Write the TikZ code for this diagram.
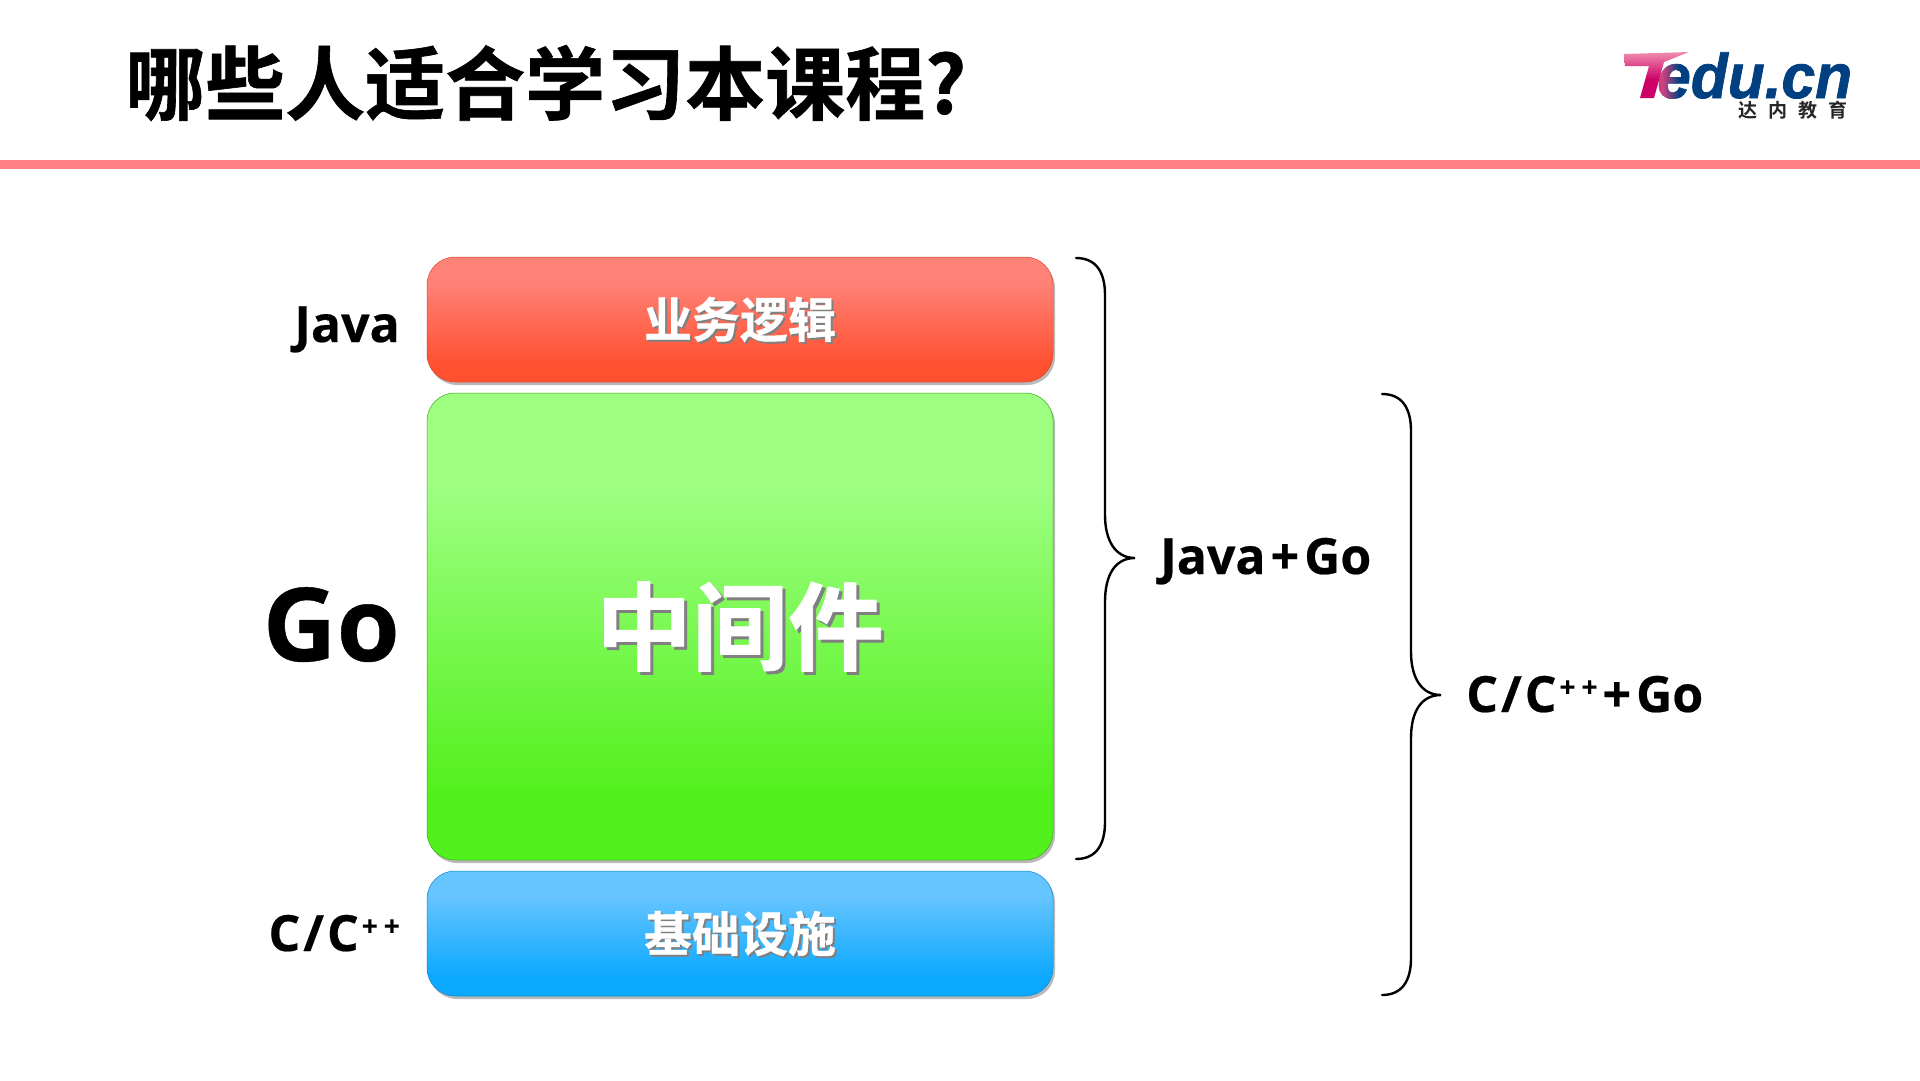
\documentclass[tikz,border=0pt]{standalone}
\usepackage{fontspec}
\setmainfont{Noto Sans CJK SC}[BoldFont={Noto Sans CJK SC Bold}]
\newfontfamily\logofont{Liberation Sans Bold Italic}[FakeBold=1.2]
\newfontfamily\cjkb{Noto Sans CJK SC Bold}[FakeBold=0.8]
\newfontfamily\cjkc{Noto Sans CJK SC Bold}
\newfontfamily\latb{Open Sans Bold}[FakeBold=0.4]
\usetikzlibrary{shadows,calc}
\definecolor{myrt}{HTML}{FF8277}\definecolor{myrb}{HTML}{FF5030}
\definecolor{mygt}{HTML}{9EFF82}\definecolor{mygb}{HTML}{52F01C}
\definecolor{mybt}{HTML}{66C4FF}\definecolor{mybb}{HTML}{0AA8FF}
\definecolor{tt}{HTML}{F08CB0}\definecolor{tb}{HTML}{CC0066}
\definecolor{logoblue}{HTML}{004080}
\pgfdeclareverticalshading{redgrad}{100bp}{color(0bp)=(myrb);color(32bp)=(myrb);color(65bp)=(myrt);color(100bp)=(myrt)}
\pgfdeclareverticalshading{greengrad}{100bp}{color(0bp)=(mygb);color(32bp)=(mygb);color(65bp)=(mygt);color(100bp)=(mygt)}
\pgfdeclareverticalshading{bluegrad}{100bp}{color(0bp)=(mybb);color(32bp)=(mybb);color(65bp)=(mybt);color(100bp)=(mybt)}
\pgfdeclareverticalshading{tgrad}{100bp}{color(0bp)=(tb);color(45bp)=(tb);color(75bp)=(tt);color(100bp)=(tt)}
\pgfdeclarehorizontalshading{egrad}{100bp}{color(0bp)=(tb);color(35bp)=(tb);color(55bp)=(black);color(100bp)=(black)}
\newcommand{\plusplus}{\hspace{3pt}\raisebox{15pt}{\fontsize{28}{28}\selectfont +\hspace{6pt}+}}
\newcommand{\cslash}{C\hspace{3pt}/\hspace{3pt}C}
\newcommand{\spplus}{\hspace{5pt}+\hspace{5pt}}
\tikzset{
 layerbox/.style={rounded corners=28pt,minimum width=626pt,inner sep=0pt,
   drop shadow={shadow xshift=2pt,shadow yshift=-3pt,fill=black!45,opacity=.6}},
 bigtxt/.style={font=\cjkb\fontsize{#1}{#1}\selectfont,text=white,inner sep=0pt},
 shadowtxt/.style={font=\cjkb\fontsize{#1}{#1}\selectfont,text=black!50,inner sep=0pt},
 lang/.style={font=\latb\fontsize{#1}{#1}\selectfont,text=black,inner sep=0pt},
 bracel/.style={draw=black,line width=2.4pt,line cap=round}
}
\begin{document}
\begin{tikzpicture}[x=1pt,y=-1pt]
\useasboundingbox (0,0) rectangle (1920,1080);
\fill[white] (0,0) rectangle (1920,1080);
\node[anchor=west,inner sep=0pt,font=\cjkb\fontsize{80}{80}\selectfont] (title) at (125,83) {哪些人适合学习本课程?};
\fill[fill={rgb,255:red,255;green,127;blue,133}] (0,160) rectangle (1920,169);
% logo
\node[anchor=base west,inner sep=0pt,font=\logofont\fontsize{63}{63}\selectfont,text=logoblue,xscale=.96] (edu) at (1657,98) {edu.cn};
\begin{scope}[blend mode=lighten]
\shade[shading=egrad] (1655,60) rectangle (1695,100);
\end{scope}
\shade[shading=tgrad] (1624,54) -- (1689,52) -- (1664,62) -- (1654,98) -- (1640,98) -- (1649,66) -- (1625,66) -- cycle;
\node[anchor=center,inner sep=0pt,font=\cjkc\fontsize{19}{19}\selectfont,text=black!85] (cn) at (1793,110.5) {达\hspace{11pt}内\hspace{11pt}教\hspace{11pt}育};
% layers
\node[layerbox,shading=redgrad,draw=myrb!85!black,line width=.5pt,minimum height=125pt] (red) at (740,319.5) {};
\node[layerbox,shading=greengrad,draw=mygb!70!black,line width=.5pt,minimum height=467pt] (green) at (740,626.5) {};
\node[layerbox,shading=bluegrad,draw=mybb!80!black,line width=.5pt,minimum height=125pt] (blue) at (740,933.5) {};
% layer texts
\node[shadowtxt=48] (t1s) at ($(red)+(2,2)$) {业务逻辑};
\node[bigtxt=48] (t1) at (red) {业务逻辑};
\node[shadowtxt=96] (t2s) at ($(green)+(3,3)$) {中间件};
\node[bigtxt=96] (t2) at (green) {中间件};
\node[shadowtxt=48] (t3s) at ($(blue)+(2,2)$) {基础设施};
\node[bigtxt=48] (t3) at (blue) {基础设施};
% left labels
\node[lang=50,anchor=base east] (java) at (400,342) {Java};
\node[lang=102,anchor=base east] (go) at (400,661) {Go};
\node[lang=50,anchor=base east] (cpp) at (400,951) {\cslash\plusplus};
% braces
\coordinate (b1s) at (1076,258); \coordinate (b1t) at (1135,558); \coordinate (b1e) at (1076,859);
\coordinate (b2s) at (1382,394); \coordinate (b2t) at (1441,695); \coordinate (b2e) at (1382,995);
\draw[bracel] (b1s) .. controls (1096,258) and (1105,272) .. (1105,295) -- (1105,515)
  .. controls (1105,540) and (1115,558) .. (b1t)
  .. controls (1115,558) and (1105,575) .. (1105,602) -- (1105,822)
  .. controls (1105,845) and (1096,859) .. (b1e);
\draw[bracel] (b2s) .. controls (1402,394) and (1411,408) .. (1411,431) -- (1411,652)
  .. controls (1411,677) and (1421,695) .. (b2t)
  .. controls (1421,695) and (1411,712) .. (1411,738) -- (1411,958)
  .. controls (1411,981) and (1402,995) .. (b2e);
\node[lang=50,anchor=base west] (jg) at (1160,574) {Java\spplus Go};
\node[lang=50,anchor=base west] (cg) at (1466,712) {\cslash\plusplus\spplus Go};
\end{tikzpicture}
\end{document}
